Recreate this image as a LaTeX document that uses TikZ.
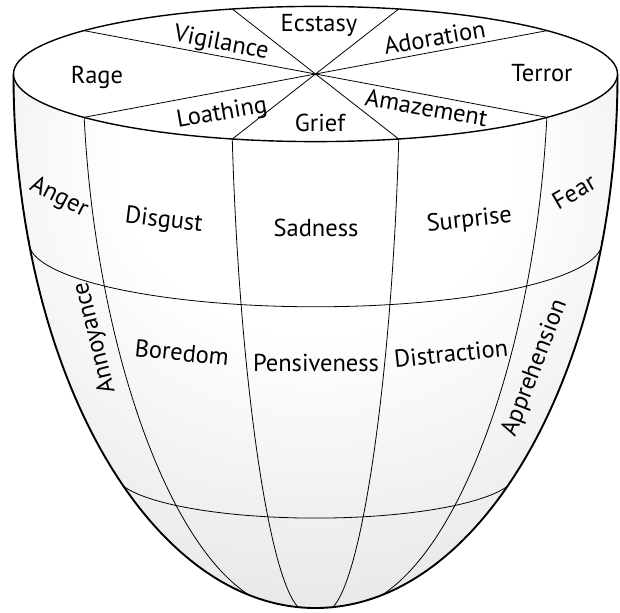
\documentclass[tikz,border=0pt]{standalone}
\usepackage{fontspec}
\setmainfont{PT Sans}
\pgfdeclareradialshading{bowlshade}{\pgfpoint{0bp}{20bp}}{color(0bp)=(white); color(16bp)=(white); color(50bp)=(black!14); color(100bp)=(black!15)}
\begin{document}
\begin{tikzpicture}[x=1pt,y=-1pt,
  rimline/.style={line width=1.4pt},
  outline/.style={line width=1.9pt},
  gridline/.style={line width=0.8pt},
  lbl/.style={font=\fontsize{24.5}{27}\selectfont, inner sep=0pt, anchor=base},
  clbl/.style={font=\fontsize{24.5}{27}\selectfont, inner sep=0pt}]
\useasboundingbox (0,0) rectangle (620,612);

% bowl body
\shade[shading=bowlshade] (13.5,74) arc[start angle=180,end angle=0,x radius=302,y radius=534] -- cycle;

\begin{scope}
\clip (13.5,74) arc[start angle=180,end angle=0,x radius=302,y radius=534] -- cycle;
% latitudes
\draw[gridline] plot[domain=178:362, samples=90, variable=\t] ({315.5+286.5*cos(\t)}, {242.7-64.1*sin(\t)});
\draw[gridline] plot[domain=178:362, samples=90, variable=\t] ({315.5+200.6*cos(\t)}, {473.2-44.9*sin(\t)});
% meridians
\draw[gridline] plot[domain=0:90, samples=90, variable=\p, smooth] ({315.5+302*cos(\p)*cos(220+8*sin(\p))}, {74+534*sin(\p)-67.6*cos(\p)*sin(220+8*sin(\p))});
\draw[gridline] plot[domain=0:90, samples=90, variable=\p, smooth] ({315.5+302*cos(\p)*cos(254+3*sin(\p))}, {74+534*sin(\p)-67.6*cos(\p)*sin(254+3*sin(\p))});
\draw[gridline] plot[domain=0:90, samples=90, variable=\p, smooth] ({315.5+302*cos(\p)*cos(286-3*sin(\p))}, {74+534*sin(\p)-67.6*cos(\p)*sin(286-3*sin(\p))});
\draw[gridline] plot[domain=0:90, samples=90, variable=\p, smooth] ({315.5+302*cos(\p)*cos(320-8*sin(\p))}, {74+534*sin(\p)-67.6*cos(\p)*sin(320-8*sin(\p))});
\end{scope}

% silhouette
\draw[outline] (13.5,74) arc[start angle=180,end angle=0,x radius=302,y radius=534];

% top disc
\filldraw[fill=white, rimline] (315.5,74) ellipse[x radius=302, y radius=67.6];
\coordinate (r40) at (547.8,30.5);
\coordinate (r74) at (398.7,9.0);
\coordinate (r106) at (232.3,9.0);
\coordinate (r140) at (83.2,30.5);
\coordinate (r220) at (83.2,117.5);
\coordinate (r254) at (232.3,139.0);
\coordinate (r286) at (398.7,139.0);
\coordinate (r320) at (547.8,117.5);
\draw[gridline] (r40) -- (r220);
\draw[gridline] (r74) -- (r254);
\draw[gridline] (r106) -- (r286);
\draw[gridline] (r140) -- (r320);

% top labels
\node[lbl] (ecstasy) at (319,32) {Ecstasy};
\node[lbl, rotate=-11] (vigilance) at (220,50) {Vigilance};
\node[lbl, rotate=10] (adoration) at (436,46) {Adoration};
\node[lbl] (rage) at (97,84) {Rage};
\node[lbl] (terror) at (542,82) {Terror};
\node[lbl, rotate=10] (loathing) at (223,120) {Loathing};
\node[lbl] (grief) at (320,132) {Grief};
\node[lbl, rotate=-10] (amazement) at (425,116) {Amazement};

% upper band labels
\node[lbl, rotate=-27] (anger) at (56,203) {Anger};
\node[lbl, rotate=-7] (disgust) at (163,227) {Disgust};
\node[lbl] (sadness) at (316,236) {Sadness};
\node[lbl, rotate=6] (surprise) at (470,227) {Surprise};
\node[lbl, rotate=30] (fear) at (578,199) {Fear};

% middle band labels
\node[clbl, rotate=104] (annoyance) at (95,338) {Annoyance};
\node[lbl, rotate=-6] (boredom) at (181,361) {Boredom};
\node[lbl] (pensiveness) at (316,371) {Pensiveness};
\node[lbl, rotate=6] (distraction) at (452,362) {Distraction};
\node[clbl, rotate=69] (apprehension) at (535,368) {Apprehension};
\end{tikzpicture}
\end{document}
